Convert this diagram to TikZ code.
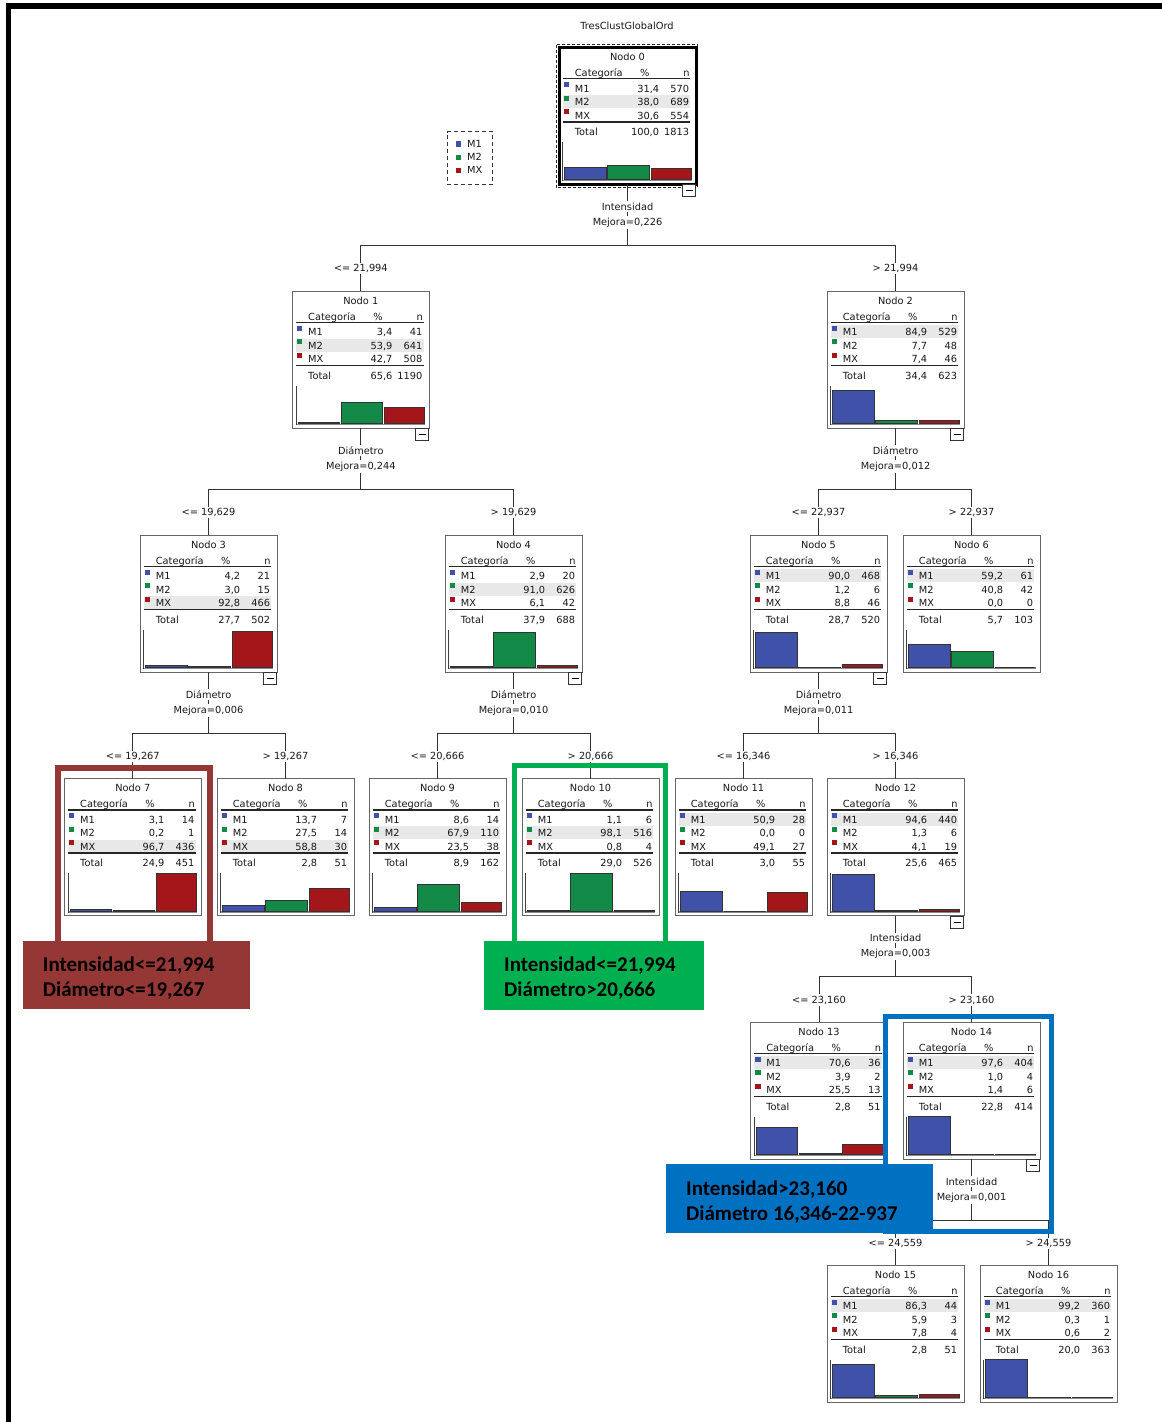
\documentclass[tikz,border=0pt]{standalone}
\usepackage{fontspec}
\usetikzlibrary{calc}
\newfontfamily\treefont{DejaVu Sans}
\newfontfamily\notefont{Carlito}

\definecolor{catA}{RGB}{63,81,168}
\definecolor{catB}{RGB}{19,138,72}
\definecolor{catC}{RGB}{165,22,27}
\definecolor{rowgray}{RGB}{232,232,232}
\definecolor{markred}{RGB}{149,55,53}
\definecolor{markgreen}{RGB}{0,176,80}
\definecolor{markblue}{RGB}{0,112,192}

\tikzset{
  tt/.style={font=\treefont\fontsize{9.8}{11}\selectfont, inner sep=0pt, text=black!90},
  treebox/.style={draw=black!60, line width=1pt, minimum width=137pt, minimum height=137pt,
    inner sep=0pt, outer sep=0pt, anchor=north west},
  selbox/.style={draw=black, line width=3pt},
  rule/.style={draw=black!85, line width=1.3pt},
  conn/.style={draw=black!80, line width=1pt},
  splitlbl/.style={tt, fill=white, inner sep=1.5pt, anchor=base},
  bar/.style={draw=black!80, line width=0.9pt},
  notetext/.style={font=\notefont\bfseries\fontsize{21}{25}\selectfont, text=black,
    anchor=base west, inner sep=0pt},
  notebox/.style={line width=5.5pt},
}

% stores the eight table values of a node
\newcommand\dtvals[8]{\def\pA{#1}\def\nA{#2}\def\pB{#3}\def\nB{#4}\def\pC{#5}\def\nC{#6}\def\pT{#7}\def\nT{#8}}
% stores the three bar heights (percent)
\newcommand\dtheights[3]{\def\hA{#1}\def\hB{#2}\def\hC{#3}}

% one category row: #1 node id, #2 row index, #3 baseline, #4 colour, #5 label, #6 percent, #7 count
\newcommand\dtrow[7]{%
  \fill[#4] (4.8,#3-10) rectangle ++(5.2,5.2);
  \node[tt,anchor=base west] (n#1-l#2) at (15.7,#3) {#5};
  \node[tt,anchor=base east] (n#1-p#2) at (100.3,#3) {#6};
  \node[tt,anchor=base east] (n#1-c#2) at (130.3,#3) {#7};}

% a tree node: #1 id, #2 left, #3 top, #4 highlighted row, #5 values, #6 bar heights, #7 extra box style
\newcommand\dtnode[7]{%
  \dtvals#5\dtheights#6%
  \begin{scope}[shift={(#2,#3)}]
    \pgfmathsetmacro\hlY{44.7+13.5*(#4-1)}
    \fill[rowgray] (3.7,\hlY-10.5) rectangle (131.3,\hlY+2.5);
    \node[treebox,#7] (n#1) at (0,0) {};
    \node[tt,anchor=base] (n#1-title) at (68.5,13.3) {Nodo #1};
    \node[tt,anchor=base west] (n#1-hcat) at (15.7,29) {Categoría};
    \node[tt,anchor=base] (n#1-hpct) at (85.7,29) {\%};
    \node[tt,anchor=base east] (n#1-hn) at (130.8,29) {n};
    \draw[rule] (3.7,31.5) -- (131.3,31.5);
    \dtrow{#1}{1}{44.7}{catA}{M1}{\pA}{\nA}
    \dtrow{#1}{2}{58.2}{catB}{M2}{\pB}{\nB}
    \dtrow{#1}{3}{71.7}{catC}{MX}{\pC}{\nC}
    \draw[rule,line width=1.7pt] (3.7,74.6) -- (131.3,74.6);
    \node[tt,anchor=base west] (n#1-tot) at (15.7,88) {Total};
    \node[tt,anchor=base east] (n#1-tp) at (100.3,88) {\pT};
    \node[tt,anchor=base east] (n#1-tn) at (130.3,88) {\nT};
    % distribution chart
    \draw[black!45,line width=1.6pt] (4,133.3) -- (133,133.3);
    \draw[black!75,line width=0.9pt] (3.8,94.5) -- (3.8,134);
    \filldraw[bar,fill=catA] (5.8,132.5) rectangle (47.4,132.5-0.385*\hA);
    \filldraw[bar,fill=catB] (48.9,132.5) rectangle (90.5,132.5-0.385*\hB);
    \filldraw[bar,fill=catC] (92,132.5) rectangle (132.5,132.5-0.385*\hC);
  \end{scope}}

% collapse button under an expanded node
\newcommand\dtminus[1]{%
  \draw[black!80,fill=white,line width=0.8pt] ($(n#1.south east)+(-13.5,0.5)$) rectangle ++(13,12);
  \draw[black,line width=0.9pt] ($(n#1.south east)+(-10,6.5)$) -- ++(6.5,0);}

% a split: #1 parent, #2/#3 children, #4 variable, #5 improvement, #6/#7 thresholds
\newcommand\dtsplit[7]{%
  \coordinate (h#1) at ($(n#1.south)+(0,61)$);
  \draw[conn] (n#1.south) -- (h#1);
  \draw[conn] (n#2.north) -- (n#2.north |- h#1) -- (n#3.north |- h#1) -- (n#3.north);
  \node[splitlbl] (v#1) at ($(h#1)+(0,-35)$) {#4};
  \node[splitlbl] (m#1) at ($(h#1)+(0,-20)$) {Mejora=#5};
  \node[splitlbl] (t#2) at ($(n#2.north |- h#1)+(0,26.5)$) {#6};
  \node[splitlbl] (t#3) at ($(n#3.north |- h#1)+(0,26.5)$) {#7};}

\begin{document}
\begin{tikzpicture}[x=1pt,y=-1pt]
\useasboundingbox (0,0) rectangle (1162,1422);
\fill[white] (0,0) rectangle (1162,1422);
% frame
\fill[black] (5.7,3.3) rectangle (1162,9);
\fill[black] (5.7,3.3) rectangle (10.7,1422);

\node[tt,anchor=base] (title) at (627,29) {TresClustGlobalOrd};

% legend
\node[draw=black!80, dashed, dash pattern=on 4pt off 3pt, line width=1pt, minimum width=45.4pt,
  minimum height=52.6pt, inner sep=0pt] (legend) at (470,158) {};
\fill[catA] (455.7,141.3) rectangle ++(5.2,5.2);
\fill[catB] (455.7,154.6) rectangle ++(5.2,5.2);
\fill[catC] (455.7,167.9) rectangle ++(5.2,5.2);
\node[tt,anchor=base west] (lg1) at (467,147.3) {M1};
\node[tt,anchor=base west] (lg2) at (467,160.6) {M2};
\node[tt,anchor=base west] (lg3) at (467,173.9) {MX};

% nodes
\draw[black!85, dashed, dash pattern=on 3pt off 2pt, line width=1pt] (556,44.5) rectangle (697.5,187.5);
\dtnode{0}{559}{47.3}{2}{{31,4}{570}{38,0}{689}{30,6}{554}{100,0}{1813}}{{31.4}{38.0}{30.6}}{selbox}
\dtnode{1}{292.3}{291}{2}{{3,4}{41}{53,9}{641}{42,7}{508}{65,6}{1190}}{{3.4}{53.9}{42.7}}{}
\dtnode{2}{827}{291}{1}{{84,9}{529}{7,7}{48}{7,4}{46}{34,4}{623}}{{84.9}{7.7}{7.4}}{}
\dtnode{3}{140}{535}{3}{{4,2}{21}{3,0}{15}{92,8}{466}{27,7}{502}}{{4.2}{3.0}{92.8}}{}
\dtnode{4}{445}{535}{2}{{2,9}{20}{91,0}{626}{6,1}{42}{37,9}{688}}{{2.9}{91.0}{6.1}}{}
\dtnode{5}{750}{535}{1}{{90,0}{468}{1,2}{6}{8,8}{46}{28,7}{520}}{{90.0}{1.2}{8.8}}{}
\dtnode{6}{903}{535}{1}{{59,2}{61}{40,8}{42}{0,0}{0}{5,7}{103}}{{59.2}{40.8}{0}}{}
\dtnode{7}{64.3}{778.5}{3}{{3,1}{14}{0,2}{1}{96,7}{436}{24,9}{451}}{{3.1}{0.2}{96.7}}{}
\dtnode{8}{217}{778.5}{3}{{13,7}{7}{27,5}{14}{58,8}{30}{2,8}{51}}{{13.7}{27.5}{58.8}}{}
\dtnode{9}{369}{778.5}{2}{{8,6}{14}{67,9}{110}{23,5}{38}{8,9}{162}}{{8.6}{67.9}{23.5}}{}
\dtnode{10}{522}{778.5}{2}{{1,1}{6}{98,1}{516}{0,8}{4}{29,0}{526}}{{1.1}{98.1}{0.8}}{}
\dtnode{11}{675}{778.5}{1}{{50,9}{28}{0,0}{0}{49,1}{27}{3,0}{55}}{{50.9}{0}{49.1}}{}
\dtnode{12}{827}{778.5}{1}{{94,6}{440}{1,3}{6}{4,1}{19}{25,6}{465}}{{94.6}{1.3}{4.1}}{}
\dtnode{13}{750.5}{1022}{1}{{70,6}{36}{3,9}{2}{25,5}{13}{2,8}{51}}{{70.6}{3.9}{25.5}}{}
\dtnode{14}{903}{1022}{1}{{97,6}{404}{1,0}{4}{1,4}{6}{22,8}{414}}{{97.6}{1.0}{1.4}}{}
\dtnode{15}{827}{1265}{1}{{86,3}{44}{5,9}{3}{7,8}{4}{2,8}{51}}{{86.3}{5.9}{7.8}}{}
\dtnode{16}{980}{1265}{1}{{99,2}{360}{0,3}{1}{0,6}{2}{20,0}{363}}{{99.2}{0.3}{0.6}}{}

% splits
\dtsplit{0}{1}{2}{Intensidad}{0,226}{<= 21,994}{> 21,994}
\dtsplit{1}{3}{4}{Diámetro}{0,244}{<= 19,629}{> 19,629}
\dtsplit{2}{5}{6}{Diámetro}{0,012}{<= 22,937}{> 22,937}
\dtsplit{3}{7}{8}{Diámetro}{0,006}{<= 19,267}{> 19,267}
\dtsplit{4}{9}{10}{Diámetro}{0,010}{<= 20,666}{> 20,666}
\dtsplit{5}{11}{12}{Diámetro}{0,011}{<= 16,346}{> 16,346}
\dtsplit{12}{13}{14}{Intensidad}{0,003}{<= 23,160}{> 23,160}
\dtsplit{14}{15}{16}{Intensidad}{0,001}{<= 24,559}{> 24,559}

\foreach \k in {0,1,2,3,4,5,12,14} {\dtminus{\k}}

% marked segments
\draw[notebox,markred] (58,768) rectangle (210,950);
\fill[markred] (23.3,940.7) rectangle (250,1009.3);
\node[notetext] (redA) at (42.7,971.7) {Intensidad<=21,994};
\node[notetext] (redB) at (42.7,996.5) {Diámetro<=19,267};

\draw[notebox,markgreen,line width=5pt] (514.8,765.5) rectangle (665.8,950);
\fill[markgreen] (484,941) rectangle (704,1009.5);
\node[notetext] (greenA) at (504,971.7) {Intensidad<=21,994};
\node[notetext] (greenB) at (504,996.5) {Diámetro>20,666};

\draw[notebox,markblue,line width=5pt] (885,1016.5) rectangle (1051.5,1231);
\fill[markblue] (666,1164) rectangle (932.7,1232.7);
\node[notetext] (blueA) at (686,1195) {Intensidad>23,160};
\node[notetext] (blueB) at (686,1220) {Diámetro 16,346-22-937};
\end{tikzpicture}
\end{document}
